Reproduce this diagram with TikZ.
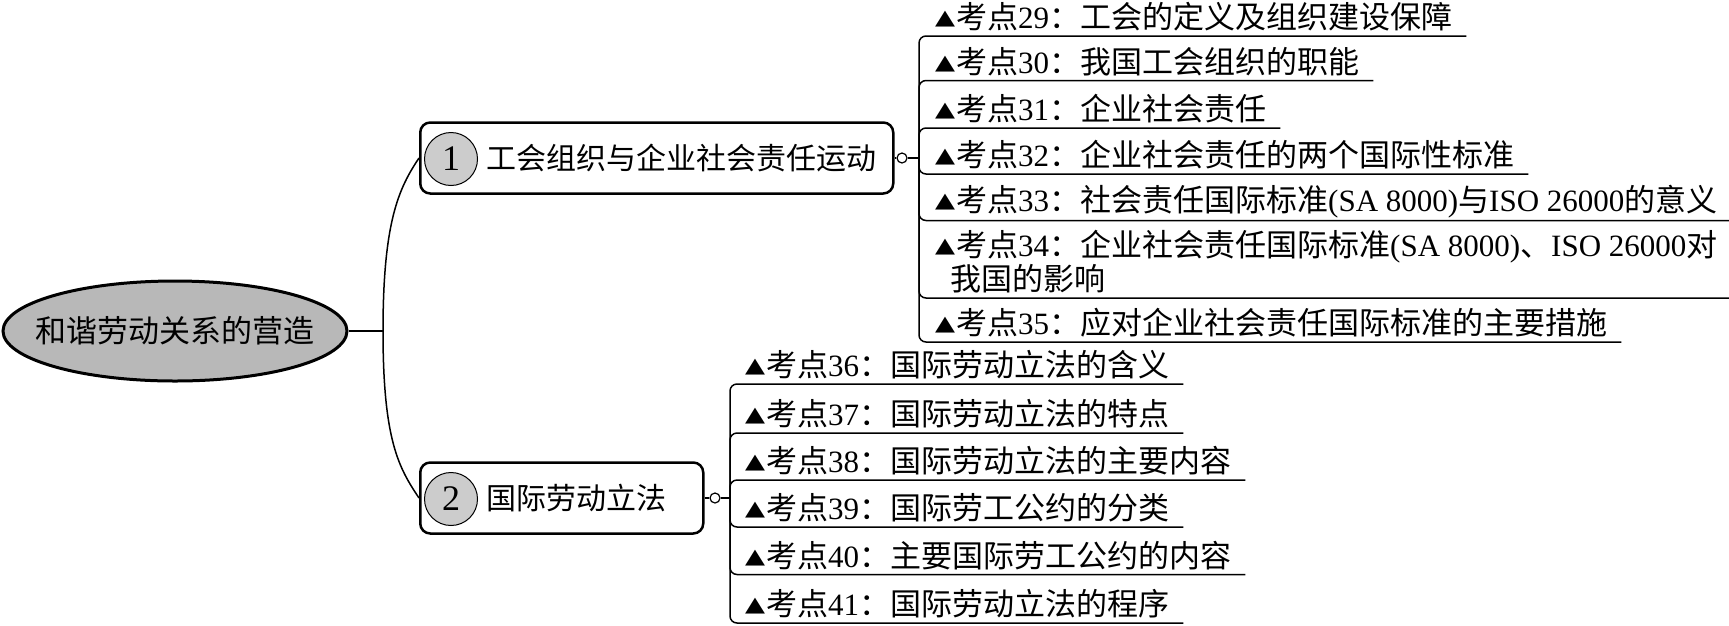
\documentclass[tikz,border=0pt]{standalone}
\usepackage{fontspec}
\usepackage{graphicx}
\setmainfont{Liberation Serif}
\newfontfamily\cjk{Noto Sans CJK SC}
\newfontfamily\dvs{DejaVu Sans}
\usetikzlibrary{shapes.geometric}
\newcommand\Cj[1]{{\cjk #1}}
\newcommand\tri{\raisebox{4pt}{\scalebox{1}[0.8]{\dvs\fontsize{26}{26}\selectfont ▲}}\hspace{1pt}}
\newcommand\stt{\rule[-5pt]{0pt}{25pt}}
\newcommand\kd[2]{\stt\tri\Cj{考点}#1\Cj{：#2}}
\tikzset{
 rootnode/.style={ellipse, draw, line width=3pt, fill=black!28, minimum width=344pt, minimum height=100pt, inner sep=0pt, font=\fontsize{31}{36}\selectfont\cjk},
 topic/.style={draw, line width=2.5pt, rounded corners=10pt, minimum height=71pt, anchor=west, inner xsep=0pt, align=left, font=\fontsize{30}{36}\selectfont\cjk},
 num/.style={circle, draw, line width=1pt, fill=black!20, minimum size=53pt, inner sep=0pt, font=\fontsize{36}{36}\selectfont},
 jn/.style={circle, draw, line width=1.2pt, minimum size=10pt, inner sep=0pt},
 item/.style={anchor=south west, inner xsep=0pt, inner ysep=2pt, font=\fontsize{31}{34}\selectfont, align=left},
 link/.style={line width=1.5pt},
 branch/.style={line width=1.5pt, rounded corners=7pt},
}
\begin{document}
\begin{tikzpicture}[x=1pt,y=-1pt]
\useasboundingbox (0,0) rectangle (1729,625);
% root
\node[rootnode] (root) at (175,331) {\makebox[0pt]{和谐劳动关系的营造}};
\coordinate (fork) at (383,331);
% topics
\node[topic, text width=473pt] (t1) at (419,158) {\hspace*{66pt}工会组织与企业社会责任运动};
\node[num] (n1) at (451,159) {1};
\node[topic, text width=283pt] (t2) at (419,498) {\hspace*{66pt}国际劳动立法};
\node[num] (n2) at (451,499) {2};
% junctions
\coordinate (b1) at (919,158);
\coordinate (b2) at (730,498);
\node[jn] (j1) at (902,158) {};
\node[jn] (j2) at (715,498) {};
% root connectors
\draw[link] (root.east) -- (fork);
\draw[link] (fork) .. controls +(0,-110) and +(-20,30) .. (t1.west);
\draw[link] (fork) .. controls +(0,110) and +(-20,-30) .. (t2.west);
\draw[link] (t1.east) -- (j1) -- (b1);
\draw[link] (t2.east) -- (j2) -- (b2);
% upper items
\node[item] (i29) at (935,36) {\kd{29}{工会的定义及组织建设保障}};
\node[item] (i30) at (935,80.5) {\kd{30}{我国工会组织的职能}};
\node[item] (i31) at (935,128) {\kd{31}{企业社会责任}};
\node[item] (i32) at (935,174) {\kd{32}{企业社会责任的两个国际性标准}};
\node[item] (i33) at (935,220.5) {\kd{33}{社会责任国际标准}(SA 8000)\Cj{与}ISO 26000\Cj{的意义}};
\node[item] (i34) at (935,298) {\kd{34}{企业社会责任国际标准}(SA 8000)\Cj{、}ISO 26000\Cj{对}\\\hspace*{15pt}\stt\Cj{我国的影响}};
\node[item] (i35) at (935,342) {\kd{35}{应对企业社会责任国际标准的主要措施}};
% lower items
\node[item] (i36) at (745,384) {\kd{36}{国际劳动立法的含义}};
\node[item] (i37) at (745,433) {\kd{37}{国际劳动立法的特点}};
\node[item] (i38) at (745,480) {\kd{38}{国际劳动立法的主要内容}};
\node[item] (i39) at (745,527) {\kd{39}{国际劳工公约的分类}};
\node[item] (i40) at (745,574.5) {\kd{40}{主要国际劳工公约的内容}};
\node[item] (i41) at (745,623) {\kd{41}{国际劳动立法的程序}};
% branches
\foreach \i in {29,30,31,32,33,34,35}
  \draw[branch] (b1) |- ([xshift=14pt]i\i.south east);
\foreach \i in {36,37,38,39,40,41}
  \draw[branch] (b2) |- ([xshift=14pt]i\i.south east);
\end{tikzpicture}
\end{document}
